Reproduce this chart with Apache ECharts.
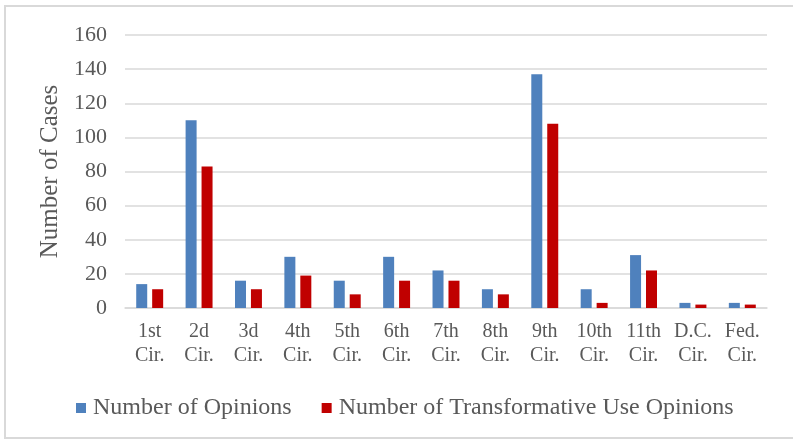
<!DOCTYPE html>
<html>
<head>
<meta charset="utf-8">
<script src="https://cdn.jsdelivr.net/npm/echarts@6/dist/echarts.min.js"></script>
<style>
html,body{margin:0;padding:0;background:#fff;}
#chart{width:793px;height:440px;}
</style>
</head>
<body>
<div id="chart"></div>
<script>
var categories = ['1st\nCir.', '2d\nCir.', '3d\nCir.', '4th\nCir.', '5th\nCir.', '6th\nCir.', '7th\nCir.', '8th\nCir.', '9th\nCir.', '10th\nCir.', '11th\nCir.', 'D.C.\nCir.', 'Fed.\nCir.'];
var opinions = [14, 110, 16, 30, 16, 30, 22, 11, 137, 11, 31, 3, 3];
var transformative = [11, 83, 11, 19, 8, 16, 16, 8, 108, 3, 22, 2, 2];
var seriesNames = ['Number of Opinions', 'Number of Transformative Use Opinions'];
var yAxisName = 'Number of Cases';

var chart = echarts.init(document.getElementById('chart'), null, {renderer: 'canvas'});
var font = 'Liberation Serif, Times New Roman, serif';
var textColor = '#595959';
chart.setOption({
  animation: false,
  backgroundColor: '#fff',
  graphic: [{
    type: 'rect',
    shape: {x: 5, y: 6, width: 800, height: 432},
    style: {fill: 'none', stroke: '#D9D9D9', lineWidth: 2},
    silent: true
  }],
  grid: {left: 125, right: 26, top: 35, bottom: 132, containLabel: false},
  legend: {
    left: 71,
    top: 391,
    itemWidth: 10,
    itemHeight: 10,
    itemGap: 30,
    icon: 'rect',
    textStyle: {fontFamily: font, fontSize: 24, color: textColor, padding: [0, 0, 0, 2]},
    data: seriesNames
  },
  xAxis: {
    type: 'category',
    data: categories,
    axisLine: {lineStyle: {color: '#D9D9D9', width: 1.5}},
    axisTick: {show: false},
    axisLabel: {fontFamily: font, fontSize: 20, color: textColor, margin: 12, lineHeight: 24, interval: 0}
  },
  yAxis: {
    type: 'value',
    min: 0,
    max: 160,
    interval: 20,
    name: yAxisName,
    nameLocation: 'middle',
    nameGap: 62,
    nameTextStyle: {fontFamily: font, fontSize: 25, color: textColor},
    axisLine: {show: false},
    axisTick: {show: false},
    splitLine: {lineStyle: {color: '#D9D9D9', width: 1.5}},
    axisLabel: {fontFamily: font, fontSize: 22, color: textColor, margin: 18}
  },
  series: [
    {name: seriesNames[0], type: 'bar', data: opinions, barWidth: 11, barGap: '45%', itemStyle: {color: '#4F81BD'}},
    {name: seriesNames[1], type: 'bar', data: transformative, barWidth: 11, barGap: '45%', itemStyle: {color: '#C00000'}}
  ]
});
</script>
</body>
</html>
